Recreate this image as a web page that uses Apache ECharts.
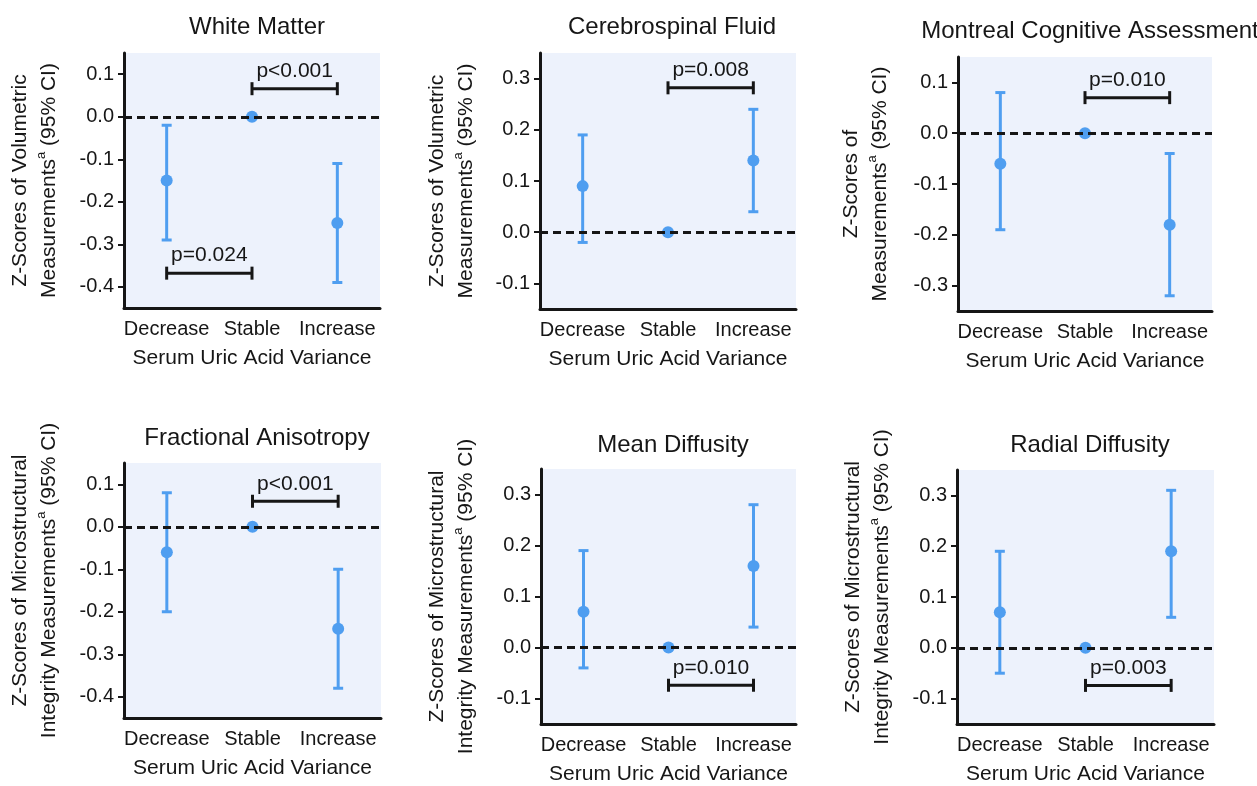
<!DOCTYPE html>
<html>
<head>
<meta charset="utf-8">
<script src="https://cdn.jsdelivr.net/npm/echarts@6.0.0/dist/echarts.min.js"></script>
<style>
  html, body { margin: 0; padding: 0; background: #fff; }
  #main { width: 1257px; height: 786px; }
</style>
</head>
<body>
<div id="main"></div>
<script>
// data
const categories = ['Decrease', 'Stable', 'Increase'];
const titles = ['White Matter', 'Cerebrospinal Fluid', 'Montreal Cognitive Assessment',
  'Fractional Anisotropy', 'Mean Diffusity', 'Radial Diffusity'];
const yNameFirst = ['Z-Scores of Volumetric', 'Z-Scores of Volumetric', 'Z-Scores of',
  'Z-Scores of Microstructural', 'Z-Scores of Microstructural', 'Z-Scores of Microstructural'];
const yNameSecond = ['Measurements', 'Measurements', 'Measurements',
  'Integrity Measurements', 'Integrity Measurements', 'Integrity Measurements'];
const xName = 'Serum Uric Acid Variance';

const means  = [[-0.15, 0, -0.25], [0.09, 0, 0.14], [-0.06, 0, -0.18],
                [-0.06, 0, -0.24], [0.07, 0, 0.16], [0.07, 0, 0.19]];
const lowers = [[-0.29, 0, -0.39], [-0.02, 0, 0.04], [-0.19, 0, -0.32],
                [-0.20, 0, -0.38], [-0.04, 0, 0.04], [-0.05, 0, 0.06]];
const uppers = [[-0.02, 0, -0.11], [0.19, 0, 0.24], [0.08, 0, -0.04],
                [0.08, 0, -0.10], [0.19, 0, 0.28], [0.19, 0, 0.31]];

const yMins = [-0.45, -0.15, -0.35, -0.45, -0.15, -0.15];
const yMaxs = [0.15, 0.35, 0.15, 0.15, 0.35, 0.35];
const yTicks = [
  [-0.4, -0.3, -0.2, -0.1, 0, 0.1],
  [-0.1, 0, 0.1, 0.2, 0.3],
  [-0.3, -0.2, -0.1, 0, 0.1],
  [-0.4, -0.3, -0.2, -0.1, 0, 0.1],
  [-0.1, 0, 0.1, 0.2, 0.3],
  [-0.1, 0, 0.1, 0.2, 0.3]
];
// p-value brackets: [fromIndex, y, toIndex]
const brackets = [
  [[1, 0.066, 2], [0, -0.368, 1]],
  [[1, 0.282, 2]],
  [[1, 0.07, 2]],
  [[1, 0.06, 2]],
  [[1, -0.074, 2]],
  [[1, -0.074, 2]]
];
const bracketText = [['p<0.001', 'p=0.024'], ['p=0.008'], ['p=0.010'], ['p<0.001'], ['p=0.010'], ['p=0.003']];

// layout
const grids = [
  { left: 124, top: 53, width: 256, height: 255 },
  { left: 540, top: 53, width: 256, height: 256 },
  { left: 958, top: 57, width: 254, height: 254 },
  { left: 124, top: 463, width: 257, height: 255 },
  { left: 541, top: 469, width: 255, height: 255 },
  { left: 957, top: 470, width: 257, height: 254 }
];
const titlePos = [[252, 10], [667, 10], [1085, 14], [252, 421], [668, 428], [1085, 428]];
const yNameGap = [60, 59, 63, 60, 60, 60];
const yNamePad = [0, 0, 0, 20, 0, 20];

const FONT = 'Liberation Sans, Arial, Helvetica, sans-serif';
const INK = '#161616';
const BLUE = '#4f9ef0';

const chart = echarts.init(document.getElementById('main'));

const option = {
  animation: false,
  textStyle: { fontFamily: FONT },
  title: titles.map((t, i) => ({
    text: t,
    left: titlePos[i][0],
    top: titlePos[i][1],
    textAlign: 'center',
    textStyle: { fontSize: 24, fontWeight: 'normal', color: INK, fontFamily: FONT }
  })),
  grid: grids.map(g => Object.assign({
    show: true, backgroundColor: '#edf2fc', borderWidth: 0, containLabel: false
  }, g)),
  xAxis: grids.map((g, i) => ({
    type: 'category',
    gridIndex: i,
    data: categories,
    boundaryGap: true,
    name: xName,
    nameLocation: 'middle',
    nameGap: 40,
    nameTextStyle: { fontSize: 21, color: INK, fontFamily: FONT },
    axisLine: { onZero: false, lineStyle: { color: INK, width: 3 } },
    axisTick: { alignWithLabel: true, length: 7, lineStyle: { color: INK, width: 3 } },
    axisLabel: { interval: 0, fontSize: 20, color: INK, margin: 11, fontFamily: FONT },
    splitLine: { show: false }
  })),
  yAxis: grids.map((g, i) => ({
    type: 'value',
    gridIndex: i,
    min: yMins[i],
    max: yMaxs[i],
    name: yNameFirst[i] + '\n{n|' + yNameSecond[i] + '}{s|a}{n| (95% CI)}',
    nameLocation: 'middle',
    nameRotate: 90,
    nameGap: yNameGap[i],
    nameTextStyle: {
      fontSize: 21, color: INK, lineHeight: 29, fontFamily: FONT,
      padding: [0, 0, 0, yNamePad[i]],
      rich: {
        n: { fontSize: 21, color: INK, lineHeight: 29, fontFamily: FONT },
        s: { fontSize: 13, color: INK, lineHeight: 15, verticalAlign: 'top', fontFamily: FONT }
      }
    },
    axisLine: { show: true, lineStyle: { color: INK, width: 3 } },
    axisTick: { show: true, customValues: yTicks[i], length: 6, lineStyle: { color: INK, width: 2 } },
    axisLabel: {
      customValues: yTicks[i],
      formatter: v => v.toFixed(1),
      fontSize: 20, color: INK, margin: 10, fontFamily: FONT
    },
    splitLine: { show: false }
  })),
  series: []
};

grids.forEach((g, p) => {
  // error bars
  option.series.push({
    type: 'custom',
    xAxisIndex: p,
    yAxisIndex: p,
    z: 2,
    silent: true,
    data: categories.map((c, i) => [i, lowers[p][i], uppers[p][i]]),
    renderItem: function (params, api) {
      const lo = api.value(1), hi = api.value(2);
      if (lo === hi) return null;
      const a = api.coord([api.value(0), lo]);
      const b = api.coord([api.value(0), hi]);
      const s = { stroke: BLUE, lineWidth: 3 };
      return {
        type: 'group',
        children: [
          { type: 'line', shape: { x1: a[0], y1: a[1], x2: b[0], y2: b[1] }, style: s },
          { type: 'line', shape: { x1: a[0] - 5, y1: a[1], x2: a[0] + 5, y2: a[1] }, style: s },
          { type: 'line', shape: { x1: b[0] - 5, y1: b[1], x2: b[0] + 5, y2: b[1] }, style: s }
        ]
      };
    },
    markLine: {
      silent: true,
      symbol: ['none', 'none'],
      label: { show: false },
      lineStyle: { color: INK, type: [8, 5], width: 3 },
      data: [{ yAxis: 0 }]
    }
  });
  // means
  option.series.push({
    type: 'scatter',
    xAxisIndex: p,
    yAxisIndex: p,
    z: 4,
    symbolSize: 12,
    itemStyle: { color: BLUE, opacity: 1 },
    data: categories.map((c, i) => [i, means[p][i]])
  });
  // p-value brackets
  option.series.push({
    type: 'custom',
    xAxisIndex: p,
    yAxisIndex: p,
    z: 3,
    silent: true,
    clip: false,
    data: brackets[p],
    renderItem: function (params, api) {
      const a = api.coord([api.value(0), api.value(1)]);
      const b = api.coord([api.value(2), api.value(1)]);
      const s = { stroke: INK, lineWidth: 3 };
      return {
        type: 'group',
        children: [
          { type: 'line', shape: { x1: a[0], y1: a[1], x2: b[0], y2: b[1] }, style: s },
          { type: 'line', shape: { x1: a[0], y1: a[1] - 6.5, x2: a[0], y2: a[1] + 6.5 }, style: s },
          { type: 'line', shape: { x1: b[0], y1: b[1] - 6.5, x2: b[0], y2: b[1] + 6.5 }, style: s },
          {
            type: 'text',
            style: {
              text: bracketText[p][params.dataIndex],
              x: (a[0] + b[0]) / 2,
              y: a[1] - 7,
              align: 'center',
              verticalAlign: 'bottom',
              fontSize: 21,
              fontFamily: FONT,
              fill: INK
            }
          }
        ]
      };
    }
  });
});

chart.setOption(option);
</script>
</body>
</html>
